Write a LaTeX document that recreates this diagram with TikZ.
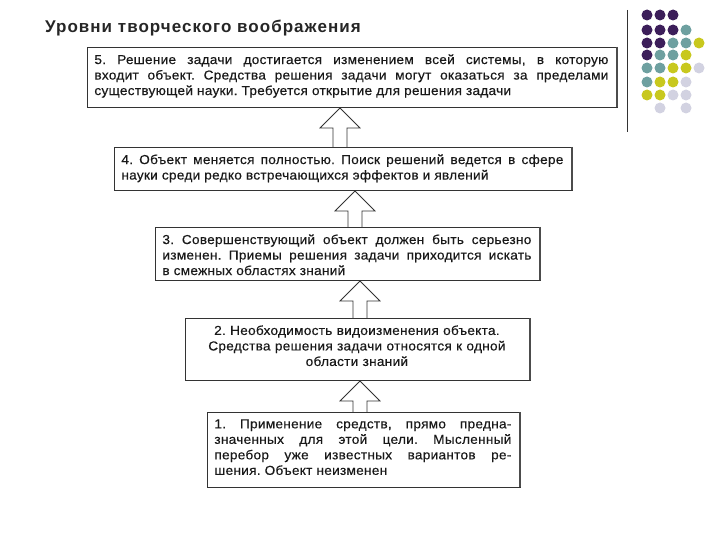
\documentclass[tikz,border=0pt]{standalone}
\usepackage{fontspec}
\setmainfont{Liberation Sans}
\newfontfamily\boxfont[LetterSpace=2,FakeStretch=1.05,FakeBold=0.3]{Liberation Sans}
\newfontfamily\titlefont[LetterSpace=6]{Liberation Sans}
\frenchspacing
\begin{document}
\begin{tikzpicture}[x=1pt,y=-1pt,
  box/.style={draw=black!80,line width=0.8pt,fill=white,inner sep=5pt,align=justify,font=\boxfont\fontsize{13}{15.5}\selectfont\frenchspacing,text=black!90},
  shadow/.style={draw=black!70,line width=2pt},
  harrow/.style={draw=black!80,line width=0.8pt,fill=white},
  P/.style={fill={rgb,255:red,60;green,30;blue,90}},T/.style={fill={rgb,255:red,110;green,160;blue,160}},Y/.style={fill={rgb,255:red,200;green,200;blue,30}},L/.style={fill={rgb,255:red,210;green,210;blue,225}}]
\useasboundingbox (0,0) rectangle (720,540);
\node[anchor=west,inner sep=0pt,font=\titlefont\bfseries\fontsize{17}{20}\selectfont,text=black!85] (title) at (45,28) {Уровни творческого воображения};
\draw[black!80,line width=0.8pt] (627,10) coordinate (l1) -- (627,132) coordinate (l2);
\foreach \r/\lst in {15/{P,P,P},30/{P,P,P,T},43/{P,P,T,T,Y},55/{P,T,T,Y},68/{T,T,Y,Y,L},82/{T,Y,Y,L},95/{Y,Y,L,L}}{
  \foreach \c [count=\i] in \lst { \fill[\c] (634+13*\i,\r) circle (5.5); }}
\fill[L] (660,108) circle (5.5); \fill[L] (686,108) circle (5.5);
\newcommand\mybox[7]{\draw[box] (#1,#2) rectangle (#3,#4); \draw[shadow] (#3,#2) -- (#3,#4); \node[box,draw=none,fill=none,anchor=north west,text width=#3-#1-#7,#5] at (#1+2,#2+2) {#6};}
\newcommand\harr[3]{\draw[harrow] (#1-7,#3) -- (#1-7,#2+20) -- (#1-20,#2+20) -- (#1,#2) -- (#1+20,#2+20) -- (#1+7,#2+20) -- (#1+7,#3) -- cycle;}
\harr{340}{108}{148}
\harr{355}{191}{228}
\harr{360}{281}{319}
\harr{360}{381}{413}
\mybox{87}{47}{617}{107}{}{5. Решение задачи достигается изменением всей системы, в которую\linebreak входит объект. Средства решения задачи могут оказаться за пределами\linebreak существующей науки. Требуется открытие для решения задачи}{16}
\mybox{114}{147}{572}{190}{}{4. Объект меняется полностью. Поиск решений ведется в сфере\linebreak науки среди редко встречающихся эффектов и явлений}{16}
\mybox{155}{227}{540}{280}{}{3. Совершенствующий объект должен быть серьезно\linebreak изменен. Приемы решения задачи приходится искать\linebreak в смежных областях знаний}{16}
\mybox{185}{318}{530}{380}{align=center}{2. Необходимость видоизменения объекта.\\ Средства решения задачи относятся к одной\\ области знаний}{16}
\mybox{207}{412}{520}{487}{}{1. Применение средств, прямо предна-\linebreak значенных для этой цели. Мысленный\linebreak перебор уже известных вариантов ре-\linebreak шения. Объект неизменен}{16}
\end{tikzpicture}
\end{document}
